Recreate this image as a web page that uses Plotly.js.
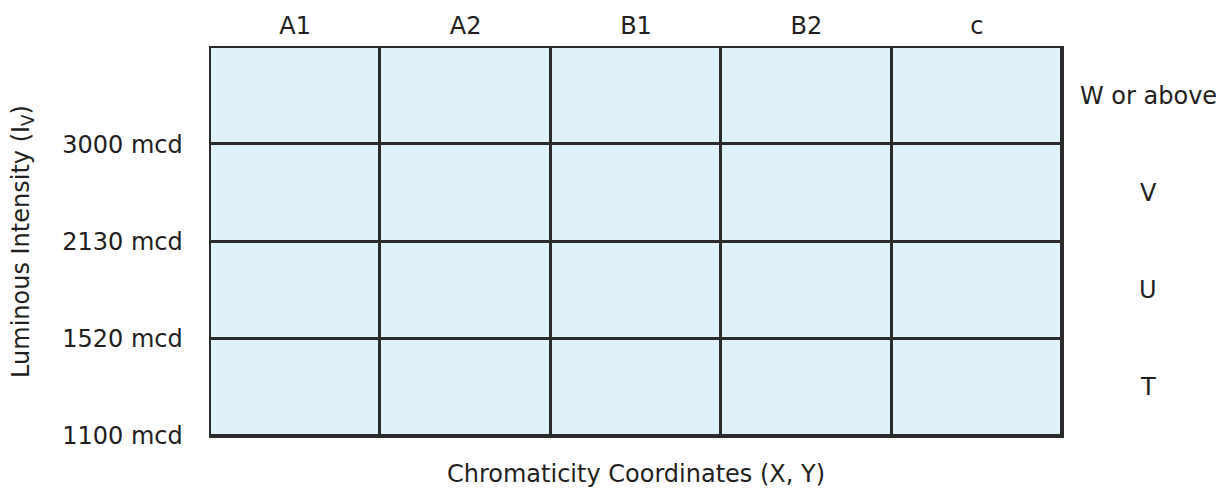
<!DOCTYPE html>
<html>
<head>
<meta charset="utf-8">
<script src="https://cdn.plot.ly/plotly-3.0.1.min.js"></script>
<style>
  html, body { margin: 0; padding: 0; background: #ffffff; }
  #chart { width: 1226px; height: 494px; }
</style>
</head>
<body>
<div id="chart"></div>
<script>
// ── DATOS ─────────────────────────────────────────────
const chromaBins = ["A1", "A2", "B1", "B2", "c"];
const intensityLimits = [1100, 1520, 2130, 3000];
const intensityBins = ["T", "U", "V", "W or above"];
const binValue = [
  [1, 1, 1, 1, 1],
  [1, 1, 1, 1, 1],
  [1, 1, 1, 1, 1],
  [1, 1, 1, 1, 1]
];

// ── ESTILO ────────────────────────────────────────────
const FONT = "DejaVu Sans, Verdana, sans-serif";
const SIZE = 24;
const TEXT = "#231f20";
const LINE = "#2b2b2b";
const FILL = "#dff2fa";

// centros de fila (índice + 0.5) y límites (índice)
const rowCenters = intensityBins.map((_, i) => i + 0.5);
const rowEdges = intensityLimits.map((_, i) => i);

const trace = {
  type: "heatmap",
  x: chromaBins,
  y: rowCenters,
  z: binValue,
  colorscale: [[0, FILL], [1, FILL]],
  showscale: false,
  xgap: 3,
  ygap: 3,
  hoverinfo: "skip"
};

const layout = {
  width: 1226,
  height: 494,
  margin: { l: 210, r: 164, t: 47, b: 58 },
  paper_bgcolor: "#ffffff",
  plot_bgcolor: LINE,
  font: { family: FONT, size: SIZE, color: TEXT },
  showlegend: false,
  xaxis: {
    side: "top",
    type: "category",
    showgrid: false,
    zeroline: false,
    ticks: "",
    ticklabelstandoff: 2,
    showline: true,
    mirror: true,
    linecolor: LINE,
    linewidth: 1.5,
    tickfont: { family: FONT, size: SIZE, color: TEXT },
    fixedrange: true
  },
  yaxis: {
    range: [0, intensityBins.length],
    tickmode: "array",
    tickvals: rowEdges,
    ticktext: intensityLimits.map(v => v + " mcd"),
    showgrid: false,
    zeroline: false,
    ticks: "",
    ticklabelstandoff: 21,
    showline: true,
    mirror: true,
    linecolor: LINE,
    linewidth: 1.5,
    tickfont: { family: FONT, size: SIZE, color: TEXT },
    title: {
      text: "Luminous Intensity (I<sub>V</sub>)",
      font: { family: FONT, size: SIZE, color: TEXT },
      standoff: 26
    },
    fixedrange: true
  },
  annotations: intensityBins.map((label, i) => ({
    xref: "paper",
    yref: "y",
    x: 1.101,
    y: rowCenters[i],
    text: label,
    showarrow: false,
    xanchor: "center",
    yanchor: "middle",
    font: { family: FONT, size: SIZE, color: TEXT }
  })).concat([{
    xref: "paper",
    yref: "paper",
    x: 0.5,
    y: 0,
    yshift: -38,
    text: "Chromaticity Coordinates (X, Y)",
    showarrow: false,
    xanchor: "center",
    yanchor: "middle",
    font: { family: FONT, size: SIZE, color: TEXT }
  }])
};

Plotly.newPlot("chart", [trace], layout, { displayModeBar: false, staticPlot: true });
</script>
</body>
</html>
